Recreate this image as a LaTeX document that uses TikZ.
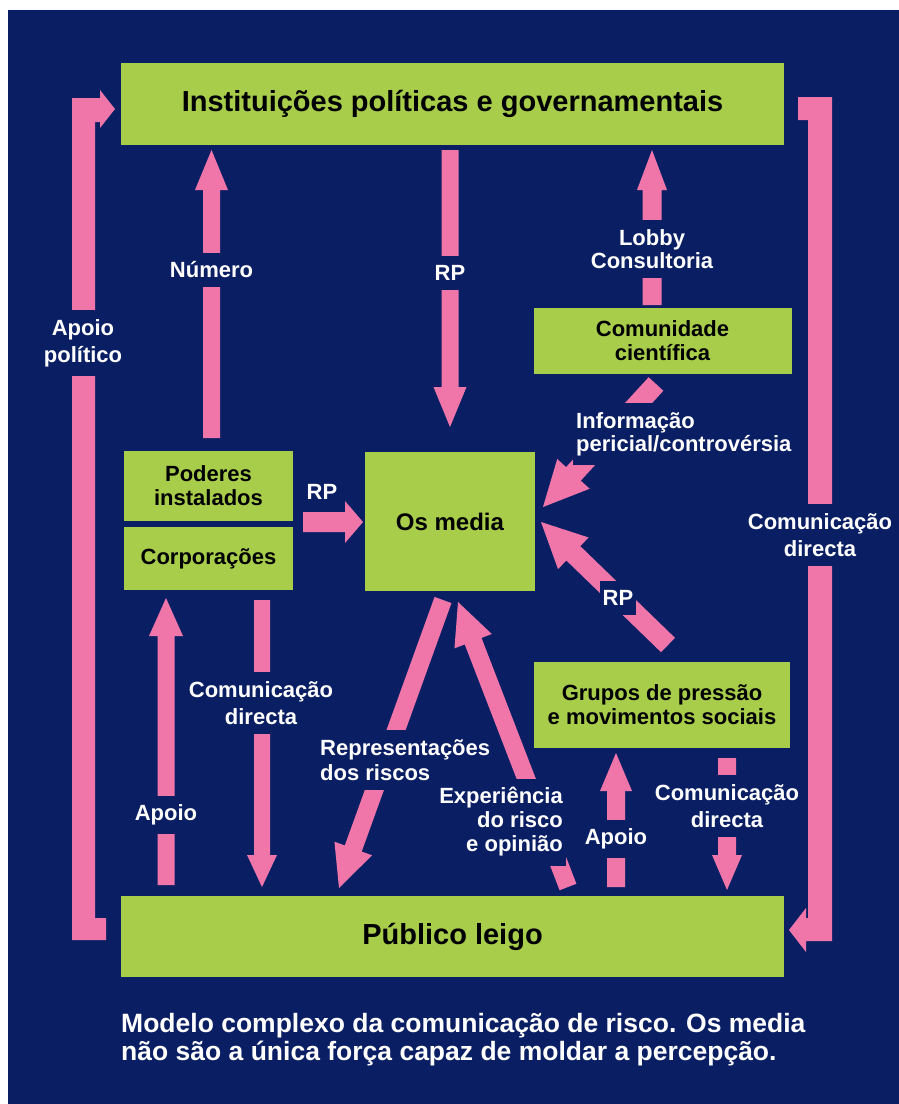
\documentclass[tikz,border=0pt]{standalone}
\usepackage{fontspec}
\setmainfont{Liberation Sans}
\usetikzlibrary{calc}
\definecolor{navy}{RGB}{10,30,100}
\definecolor{boxgreen}{RGB}{168,205,75}
\definecolor{pinkc}{RGB}{240,118,170}
% block arrow: from #1 to #2, shaft half width #3, head half width #4, head length #5
\newcommand{\blkarrow}[5]{%
  \coordinate (ahbase) at ($(#2)!#5!(#1)$);
  \fill[pinkc] ($(#1)!#3!90:(#2)$) -- ($(ahbase)!#3!-90:(#1)$) -- ($(ahbase)!#4!-90:(#1)$)
     -- (#2) -- ($(ahbase)!#4!90:(#1)$) -- ($(ahbase)!#3!90:(#1)$) -- ($(#1)!#3!-90:(#2)$) -- cycle;}
\begin{document}
\begin{tikzpicture}[x=1pt,y=-1pt,
  box/.style={fill=boxgreen, text=black, inner sep=0pt, align=center, font=\bfseries\fontsize{22}{24}\selectfont},
  bigbox/.style={box, font=\bfseries\fontsize{29}{31}\selectfont},
  lbl/.style={fill=navy, text=white, inner xsep=3pt, inner ysep=9pt, align=center, font=\bfseries\fontsize{22}{25}\selectfont},
  bracket/.style={fill=pinkc}
]
\useasboundingbox (0,0) rectangle (899,1104);
\fill[white] (0,0) rectangle (899,1104);
\fill[navy] (8,10) rectangle (899,1104);

% boxes
\node[bigbox, minimum width=663pt, minimum height=82pt] (inst) at (452.5,104) {Instituições políticas e governamentais};
\node[box, minimum width=258pt, minimum height=66pt] (cien) at (662.5,341) {Comunidade\\científica};
\node[box, minimum width=169pt, minimum height=70pt] (pod) at (208.5,486) {Poderes\\instalados};
\node[box, minimum width=169pt, minimum height=63pt] (corp) at (208.5,558.5) {Corporações};
\node[box, minimum width=170pt, minimum height=139pt, font=\bfseries\fontsize{24}{26}\selectfont] (media) at (450,521.5) {Os media};
\node[box, minimum width=256pt, minimum height=86pt] (grup) at (662,705) {Grupos de pressão\\e movimentos sociais};
\node[bigbox, minimum width=663pt, minimum height=81pt] (pub) at (452.5,936.5) {Público leigo};

% brackets
\fill[bracket] (72,940) -- (72,98) -- (100,98) -- (100,90) -- (115,109) -- (100,128) -- (100,122)
  -- (95,122) -- (95,918) -- (106,918) -- (106,940) -- cycle;
\fill[bracket] (798,97) -- (832,97) -- (832,941) -- (806,941) -- (806,952) -- (789,930) -- (806,908)
  -- (806,918) -- (808,918) -- (808,120) -- (798,120) -- cycle;

% arrow end points
\coordinate (numA) at (211.5,438);  \coordinate (numB) at (211.5,150);
\coordinate (rpA) at (450,150);     \coordinate (rpB) at (450,427);
\coordinate (lobA) at (652,305);    \coordinate (lobB) at (652,150);
\coordinate (podA) at (303,522);    \coordinate (podB) at (363,522);
\coordinate (cdA) at (262,600);     \coordinate (cdB) at (262,887);
\coordinate (apA) at (166,885);     \coordinate (apB) at (166,598);
\coordinate (repA) at (443,600);    \coordinate (repB) at (339,888);
\coordinate (expA) at (568,887);    \coordinate (expB) at (458,602);
\coordinate (ap2A) at (616,887);    \coordinate (ap2B) at (616,753);
\coordinate (cd2A) at (727,758);    \coordinate (cd2B) at (727,890);
\coordinate (infA) at (656,384);    \coordinate (infB) at (543,507);
\coordinate (grA) at (668,645);     \coordinate (grB) at (541,522);

\blkarrow{numA}{numB}{8.5pt}{16.5pt}{40pt}
\blkarrow{rpA}{rpB}{8.5pt}{16.5pt}{40pt}
\blkarrow{lobA}{lobB}{9.5pt}{15pt}{40pt}
\blkarrow{podA}{podB}{10pt}{21pt}{18pt}
\blkarrow{cdA}{cdB}{8pt}{15pt}{32pt}
\blkarrow{apA}{apB}{8.5pt}{17pt}{38pt}
\blkarrow{repA}{repB}{9pt}{20pt}{42pt}
\blkarrow{expA}{expB}{9pt}{20pt}{42pt}
\blkarrow{ap2A}{ap2B}{9pt}{16pt}{38pt}
\blkarrow{cd2A}{cd2B}{9pt}{15pt}{35pt}
\blkarrow{infA}{infB}{10pt}{22pt}{45pt}
\blkarrow{grA}{grB}{10pt}{22pt}{45pt}

% labels
\node[lbl] (lnum) at (211.5,270) {Número};
\node[lbl] (lrp1) at (450,273) {RP};
\node[lbl, font=\bfseries\fontsize{22}{23}\selectfont] (llob) at (652,249) {Lobby\\Consultoria};
\node[lbl, font=\bfseries\fontsize{22}{27}\selectfont] (lapp) at (83,343) {Apoio\\político};
\node[lbl, font=\bfseries\fontsize{22}{27}\selectfont] (lcdr) at (820,535) {Comunicação\\directa};
\node[lbl, anchor=west, align=left, font=\bfseries\fontsize{22}{23}\selectfont] (linf) at (573,434) {Informação\\pericial/controvérsia};
\node[lbl] (lrp2) at (322,492) {RP};
\node[lbl] (lrp3) at (618,598) {RP};
\node[lbl, font=\bfseries\fontsize{22}{27}\selectfont] (lcd1) at (261,703) {Comunicação\\directa};
\node[lbl] (lap1) at (166,815) {Apoio};
\node[lbl, anchor=west, align=left] (lrep) at (317,760) {Representações\\dos riscos};
\node[lbl, anchor=east, align=right, font=\bfseries\fontsize{22}{24}\selectfont] (lexp) at (566,822) {Experiência\\do risco\\e opinião};
\node[lbl] (lap2) at (616,839) {Apoio};
\node[lbl, font=\bfseries\fontsize{22}{27}\selectfont] (lcd2) at (727,806) {Comunicação\\directa};

% caption
\node[anchor=north west, inner sep=0pt, text=white, align=left, font=\bfseries\fontsize{26.5}{28}\selectfont] (cap) at (121,1013)
  {Modelo complexo da comunicação de risco. Os media\\não são a única força capaz de moldar a percepção.};
\end{tikzpicture}
\end{document}
